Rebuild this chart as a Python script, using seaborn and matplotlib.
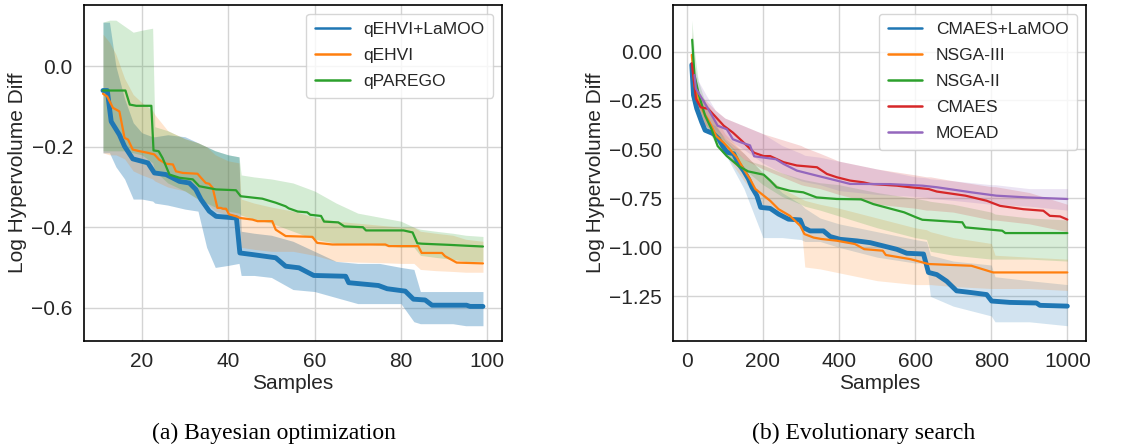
import numpy as np
import matplotlib
matplotlib.use("Agg")
import matplotlib.pyplot as plt
import seaborn as sns

# ---- (a) Bayesian optimization: mean curves (sample, value) ----
bo_lamoo_x = [11, 12, 12.9, 14.8, 16, 17.9, 21.4, 22.9, 25.6, 28.7, 31, 32.5, 33.7, 35.6, 37.2,
              41.9, 42.7, 45.6, 51, 53.3, 56.4, 59.8, 67.2, 67.9, 74.8, 76.8, 81, 82.9, 85.6,
              87.2, 95.2, 96, 99]
bo_lamoo_y = [-0.060, -0.060, -0.137, -0.170, -0.199, -0.230, -0.240, -0.265, -0.269, -0.286,
              -0.290, -0.306, -0.331, -0.360, -0.373, -0.377, -0.464, -0.468, -0.476, -0.497,
              -0.501, -0.520, -0.522, -0.538, -0.545, -0.553, -0.559, -0.579, -0.581, -0.594,
              -0.594, -0.597, -0.597]
bo_qehvi_x = [11, 12, 13.3, 14.8, 16, 16.8, 17.9, 19.5, 21.4, 22.9, 24, 25.6, 27.2, 27.9, 29.5,
              32.9, 33.7, 34.8, 35.6, 36.4, 37.5, 38.3, 38.8, 39.5, 40.2, 41.9, 42.7, 45.6, 46.8,
              50.2, 51, 53.3, 59.5, 60.6, 64.1, 76.4, 77.2, 84, 84.8, 89.5, 90.2, 92.9, 99]
bo_qehvi_y = [-0.068, -0.075, -0.103, -0.112, -0.178, -0.182, -0.207, -0.211, -0.215, -0.219,
              -0.232, -0.242, -0.244, -0.261, -0.265, -0.267, -0.277, -0.290, -0.292, -0.302,
              -0.352, -0.352, -0.354, -0.354, -0.368, -0.373, -0.377, -0.381, -0.385, -0.385,
              -0.406, -0.422, -0.424, -0.439, -0.443, -0.443, -0.447, -0.447, -0.464, -0.464,
              -0.472, -0.488, -0.490]
bo_qparego_x = [11, 16.2, 17.2, 18.7, 22.2, 22.7, 23.9, 24.8, 26.4, 28.7, 31.8, 33.3, 37.2, 41.8,
                42.9, 47.9, 51, 53.3, 54, 56.1, 58.3, 59, 61.5, 62.2, 65.5, 66.9, 71.2, 71.9,
                80.6, 82.7, 83.8, 84.9, 91.4, 95, 99]
bo_qparego_y = [-0.060, -0.060, -0.095, -0.098, -0.098, -0.209, -0.211, -0.228, -0.269, -0.277,
                -0.281, -0.298, -0.306, -0.308, -0.323, -0.329, -0.339, -0.348, -0.353, -0.361,
                -0.363, -0.369, -0.372, -0.386, -0.388, -0.398, -0.400, -0.408, -0.408, -0.413,
                -0.440, -0.441, -0.444, -0.446, -0.448]

# ---- (a) bands, read on a coarse grid ----
bo_band_x = [11, 12.5, 14, 16, 18, 20, 22.5, 23, 26, 30, 33, 35, 37, 40, 42.5, 43, 46, 50, 55,
             60, 65, 70, 75, 80, 83, 84.5, 88, 92, 95, 99]
bo_lamoo_lo = [-0.215, -0.215, -0.25, -0.28, -0.33, -0.33, -0.335, -0.34, -0.345, -0.355, -0.36,
               -0.45, -0.50, -0.495, -0.49, -0.52, -0.52, -0.525, -0.555, -0.56, -0.575, -0.59,
               -0.59, -0.59, -0.635, -0.64, -0.64, -0.64, -0.645, -0.645]
bo_lamoo_hi = [0.11, 0.11, 0.0, -0.08, -0.14, -0.165, -0.175, -0.175, -0.17, -0.175, -0.19,
               -0.20, -0.21, -0.22, -0.225, -0.41, -0.415, -0.42, -0.435, -0.46, -0.485, -0.49,
               -0.49, -0.50, -0.505, -0.56, -0.56, -0.56, -0.56, -0.56]
bo_qehvi_lo = [-0.215, -0.22, -0.22, -0.23, -0.26, -0.27, -0.28, -0.285, -0.30, -0.31, -0.33,
               -0.34, -0.36, -0.37, -0.375, -0.45, -0.455, -0.46, -0.46, -0.47, -0.485, -0.487,
               -0.488, -0.49, -0.49, -0.505, -0.508, -0.51, -0.512, -0.512]
bo_qehvi_hi = [0.08, 0.06, 0.03, -0.03, -0.07, -0.09, -0.11, -0.12, -0.16, -0.18, -0.19, -0.20,
               -0.22, -0.235, -0.24, -0.33, -0.34, -0.35, -0.36, -0.375, -0.385, -0.39, -0.395,
               -0.40, -0.40, -0.41, -0.415, -0.42, -0.43, -0.435]
bo_qparego_lo = [-0.21, -0.21, -0.21, -0.21, -0.215, -0.22, -0.24, -0.26, -0.29, -0.31, -0.33,
                 -0.34, -0.35, -0.36, -0.365, -0.37, -0.38, -0.39, -0.41, -0.43, -0.44, -0.44,
                 -0.445, -0.45, -0.45, -0.47, -0.475, -0.48, -0.485, -0.485]
bo_qparego_hi = [0.11, 0.115, 0.115, 0.10, 0.085, 0.09, 0.095, -0.15, -0.16, -0.18, -0.19, -0.20,
                 -0.21, -0.22, -0.225, -0.27, -0.275, -0.28, -0.29, -0.31, -0.34, -0.365, -0.375,
                 -0.385, -0.40, -0.405, -0.41, -0.415, -0.42, -0.423]

# ---- (b) Evolutionary search: mean curves ----
es_lamoo_x = [13, 17.5, 26, 39, 48, 70, 83, 96, 105, 123, 136, 149, 162, 171, 184, 194, 219, 241,
              267, 298, 306, 324, 359, 377, 403, 447, 482, 517, 552, 578, 622, 635, 657, 683, 709,
              744, 788, 801, 849, 919, 928, 1000]
es_lamoo_y = [-0.068, -0.223, -0.291, -0.360, -0.402, -0.420, -0.445, -0.488, -0.514, -0.522,
              -0.574, -0.608, -0.651, -0.693, -0.736, -0.796, -0.801, -0.830, -0.856, -0.860,
              -0.899, -0.916, -0.916, -0.945, -0.959, -0.967, -0.976, -0.993, -1.010, -1.030,
              -1.034, -1.128, -1.139, -1.173, -1.222, -1.230, -1.241, -1.274, -1.281, -1.284,
              -1.296, -1.300]
es_nsga3_x = [13, 20, 28, 44, 60, 77, 97, 113, 131, 149, 166, 180, 197, 219, 241, 271, 298, 309,
              333, 353, 394, 442, 466, 515, 523, 587, 603, 635, 748, 805, 1000]
es_nsga3_y = [-0.017, -0.172, -0.241, -0.310, -0.362, -0.431, -0.466, -0.500, -0.539, -0.599,
              -0.651, -0.702, -0.728, -0.762, -0.805, -0.839, -0.890, -0.932, -0.950, -0.957,
              -0.966, -0.983, -1.009, -1.017, -1.039, -1.060, -1.068, -1.085, -1.094, -1.128,
              -1.128]
es_nsga2_x = [14, 20, 32, 48, 65, 81, 105, 137, 161, 202, 219, 236, 271, 306, 341, 394, 458, 490,
              571, 603, 619, 724, 732, 829, 837, 1000]
es_nsga2_y = [0.060, -0.120, -0.224, -0.328, -0.397, -0.483, -0.534, -0.586, -0.612, -0.629,
              -0.659, -0.693, -0.711, -0.719, -0.745, -0.753, -0.755, -0.779, -0.821, -0.847,
              -0.859, -0.872, -0.898, -0.915, -0.927, -0.927]
es_cmaes_x = [13, 24, 36, 56, 73, 97, 121, 145, 177, 202, 219, 254, 289, 342, 368, 394, 429, 464,
              482, 552, 587, 635, 657, 732, 788, 823, 884, 937, 954, 981, 1000]
es_cmaes_y = [-0.060, -0.241, -0.284, -0.293, -0.328, -0.379, -0.414, -0.457, -0.517, -0.534,
              -0.534, -0.565, -0.582, -0.591, -0.625, -0.642, -0.659, -0.668, -0.676, -0.685,
              -0.693, -0.702, -0.715, -0.736, -0.762, -0.788, -0.805, -0.813, -0.839, -0.842,
              -0.858]
es_moead_x = [20, 24, 40, 56, 81, 105, 121, 145, 166, 177, 234, 254, 289, 342, 394, 429, 534, 619,
              657, 748, 813, 894, 1000]
es_moead_y = [-0.120, -0.190, -0.241, -0.293, -0.379, -0.397, -0.448, -0.466, -0.479, -0.535,
              -0.550, -0.574, -0.608, -0.634, -0.659, -0.676, -0.677, -0.685, -0.693, -0.719,
              -0.736, -0.745, -0.753]

# ---- (b) bands ----
es_band_x = [13, 20, 30, 50, 75, 100, 150, 200, 250, 300, 310, 350, 400, 500, 600, 630, 640, 700,
             800, 810, 900, 1000]
es_lamoo_lo = [-0.12, -0.28, -0.33, -0.40, -0.45, -0.52, -0.70, -0.95, -0.95, -0.96, -0.97, -0.97,
               -1.00, -1.05, -1.08, -1.08, -1.25, -1.30, -1.35, -1.38, -1.38, -1.40]
es_lamoo_hi = [0.0, -0.17, -0.25, -0.35, -0.38, -0.44, -0.52, -0.62, -0.72, -0.78, -0.80, -0.85,
               -0.88, -0.92, -0.96, -0.97, -1.04, -1.07, -1.09, -1.15, -1.17, -1.19]
es_nsga3_lo = [-0.10, -0.25, -0.32, -0.38, -0.44, -0.52, -0.66, -0.78, -0.84, -0.88, -1.10, -1.11,
               -1.13, -1.17, -1.19, -1.19, -1.19, -1.20, -1.21, -1.21, -1.21, -1.22]
es_nsga3_hi = [0.05, -0.10, -0.20, -0.26, -0.33, -0.42, -0.52, -0.62, -0.70, -0.75, -0.76, -0.78,
               -0.80, -0.85, -0.90, -0.91, -0.92, -0.95, -0.98, -1.04, -1.05, -1.06]
es_nsga2_lo = [-0.05, -0.20, -0.28, -0.38, -0.47, -0.53, -0.60, -0.68, -0.74, -0.78, -0.79, -0.81,
               -0.84, -0.90, -0.95, -0.96, -1.02, -1.04, -1.06, -1.06, -1.06, -1.07]
es_nsga2_hi = [0.16, 0.0, -0.15, -0.27, -0.37, -0.45, -0.55, -0.58, -0.62, -0.65, -0.655, -0.67,
               -0.68, -0.72, -0.75, -0.76, -0.765, -0.78, -0.82, -0.83, -0.85, -0.86]
es_cmaes_lo = [-0.15, -0.25, -0.33, -0.38, -0.42, -0.46, -0.55, -0.60, -0.64, -0.68, -0.685, -0.70,
               -0.73, -0.78, -0.80, -0.81, -0.81, -0.82, -0.86, -0.86, -0.88, -0.92]
es_cmaes_hi = [0.10, -0.15, -0.22, -0.25, -0.30, -0.34, -0.38, -0.42, -0.45, -0.48, -0.49, -0.52,
               -0.56, -0.60, -0.63, -0.64, -0.64, -0.66, -0.69, -0.69, -0.72, -0.78]
es_moead_lo = [-0.18, -0.20, -0.28, -0.33, -0.40, -0.44, -0.50, -0.57, -0.62, -0.66, -0.665, -0.68,
               -0.71, -0.73, -0.74, -0.745, -0.75, -0.76, -0.78, -0.78, -0.79, -0.81]
es_moead_hi = [-0.05, -0.08, -0.15, -0.22, -0.30, -0.34, -0.38, -0.42, -0.48, -0.52, -0.53, -0.54,
               -0.56, -0.60, -0.64, -0.645, -0.65, -0.66, -0.68, -0.68, -0.70, -0.70]

sns.set_theme(style="whitegrid")
plt.rcParams["font.family"] = ["Liberation Sans", "DejaVu Sans"]
plt.rcParams["axes.edgecolor"] = "black"
plt.rcParams["axes.linewidth"] = 1.2
pal = sns.color_palette("tab10")

fig = plt.figure(figsize=(11.38, 4.44), dpi=100)
ax1 = fig.add_axes([0.0738, 0.232, 0.3673, 0.757])
ax2 = fig.add_axes([0.5914, 0.232, 0.3630, 0.757])


def draw(ax, x, y, bx, lo, hi, color, label, lw, alpha):
    ax.fill_between(bx, lo, hi, color=color, alpha=alpha, linewidth=0)
    sns.lineplot(x=x, y=y, ax=ax, color=color, label=label, linewidth=lw,
                 sort=False, estimator=None)


draw(ax1, bo_lamoo_x, bo_lamoo_y, bo_band_x, bo_lamoo_lo, bo_lamoo_hi, pal[0], "qEHVI+LaMOO", 3.5, 0.35)
draw(ax1, bo_qehvi_x, bo_qehvi_y, bo_band_x, bo_qehvi_lo, bo_qehvi_hi, pal[1], "qEHVI", 1.6, 0.2)
draw(ax1, bo_qparego_x, bo_qparego_y, bo_band_x, bo_qparego_lo, bo_qparego_hi, pal[2], "qPAREGO", 1.6, 0.2)

draw(ax2, es_lamoo_x, es_lamoo_y, es_band_x, es_lamoo_lo, es_lamoo_hi, pal[0], "CMAES+LaMOO", 3.5, 0.2)
draw(ax2, es_nsga3_x, es_nsga3_y, es_band_x, es_nsga3_lo, es_nsga3_hi, pal[1], "NSGA-III", 1.6, 0.18)
draw(ax2, es_nsga2_x, es_nsga2_y, es_band_x, es_nsga2_lo, es_nsga2_hi, pal[2], "NSGA-II", 1.6, 0.18)
draw(ax2, es_cmaes_x, es_cmaes_y, es_band_x, es_cmaes_lo, es_cmaes_hi, pal[3], "CMAES", 1.6, 0.18)
draw(ax2, es_moead_x, es_moead_y, es_band_x[1:], es_moead_lo[1:], es_moead_hi[1:], pal[4], "MOEAD", 1.6, 0.18)

ax1.set_yticks([0.0, -0.2, -0.4, -0.6])
ax1.set_xticks([20, 40, 60, 80, 100])
ax2.set_yticks([0.0, -0.25, -0.5, -0.75, -1.0, -1.25])
ax2.set_xticks([0, 200, 400, 600, 800, 1000])
ax2.set_yticklabels(["0.00", "\u22120.25", "\u22120.50", "\u22120.75", "\u22121.00", "\u22121.25"])

for ax in (ax1, ax2):
    ax.set_xlabel("Samples", fontsize=15, labelpad=2)
    ax.set_ylabel("Log Hypervolume Diff", fontsize=15, labelpad=3)
    ax.tick_params(labelsize=15, pad=2)
    ax.grid(color="#d4d4d4", linewidth=1)
    leg = ax.legend(loc="upper right", fontsize=12.5, frameon=True, borderpad=0.5,
                    labelspacing=0.62)
    for ln in leg.get_lines():
        ln.set_linewidth(1.8)

fig.text(0.241, 0.012, "(a) Bayesian optimization", family="Liberation Serif",
         fontsize=17, ha="center", color="black")
fig.text(0.759, 0.012, "(b) Evolutionary search", family="Liberation Serif",
         fontsize=17, ha="center", color="black")

fig.savefig("out.png", dpi=100)
